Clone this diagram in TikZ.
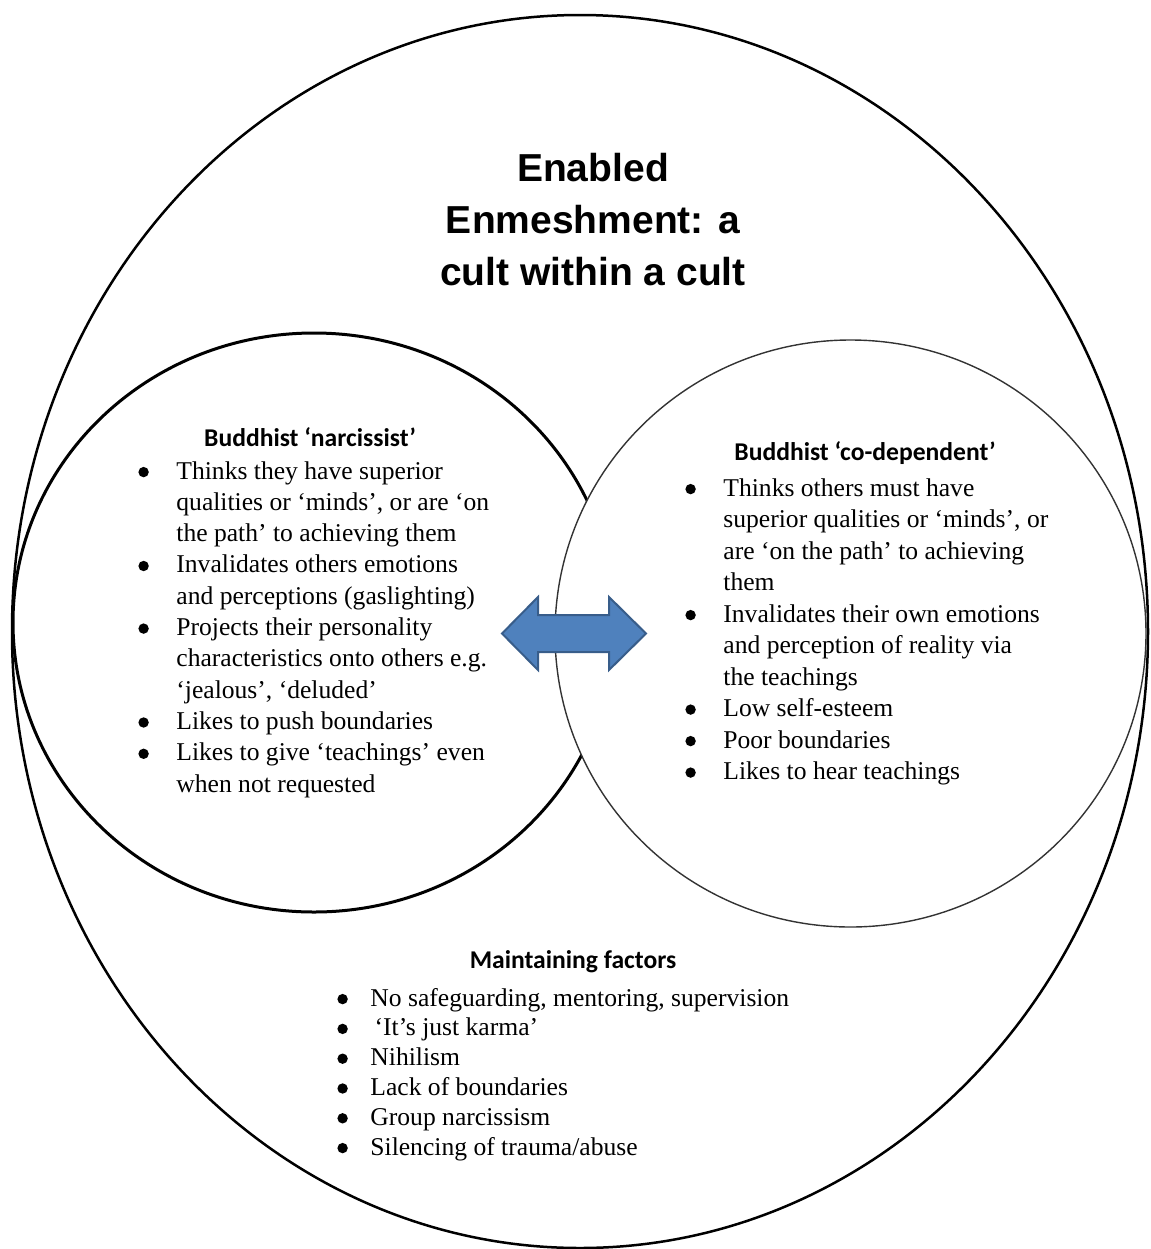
\documentclass[tikz,border=0pt]{standalone}
\usepackage{fontspec}
\setmainfont{Liberation Serif}
\newfontfamily\titlefont{Liberation Sans}
\newfontfamily\headfont{Carlito}
\usetikzlibrary{shapes.geometric}
\definecolor{arrowfill}{HTML}{4F81BD}
\definecolor{arrowline}{HTML}{385D8A}
\renewcommand{\arraystretch}{1}
\newcommand{\bul}{\tikz[baseline=0pt]\fill[black] (0pt,0.27em) circle (2.6pt);}
\begin{document}
\begin{tikzpicture}[x=0.5pt,y=-0.5pt,
  ring/.style={ellipse, draw=black, fill=white, inner sep=0pt},
  headtext/.style={font=\headfont\bfseries\fontsize{12.8}{15}\selectfont, inner sep=0pt},
  listtext/.style={anchor=base west, inner sep=0pt, font=\fontsize{12.8}{15.65}\selectfont},
  rlisttext/.style={anchor=base west, inner sep=0pt, font=\fontsize{12.8}{15.75}\selectfont},
  bottomlist/.style={anchor=base west, inner sep=0pt, font=\fontsize{12.8}{14.9}\selectfont},
  bigarrow/.style={fill=arrowfill, draw=arrowline, line width=1pt, line join=miter}]
\useasboundingbox (0,0) rectangle (1151,1249);

% outer ellipse
\node[ring, line width=1.25pt, minimum width=568pt, minimum height=616.5pt] (outer) at (580,631.5) {};
% left circle (narcissist)
\node[ring, line width=1.5pt, minimum width=301pt, minimum height=289.5pt] (left) at (314,622.5) {};
% right circle (co-dependent)
\node[ring, draw=black!80, line width=0.7pt, minimum width=295.5pt, minimum height=293.5pt] (right) at (850.5,633.5) {};

% title
\node[font=\titlefont\bfseries\fontsize{19.5}{26}\selectfont, align=center, inner sep=0pt] (title) at (593,220)
  {Enabled\\Enmeshment: a\\cult within a cult};

% left list
\node[headtext] (lhead) at (310,437) {Buddhist ‘narcissist’};
\node[listtext] (llist) at (138,479) {\begin{tabular}[t]{@{}p{19pt}@{}l@{}}
\bul & Thinks they have superior\\
 & qualities or ‘minds’, or are ‘on\\
 & the path’ to achieving them\\
\bul & Invalidates others emotions\\
 & and perceptions (gaslighting)\\
\bul & Projects their personality\\
 & characteristics onto others e.g.\\
 & ‘jealous’, ‘deluded’\\
\bul & Likes to push boundaries\\
\bul & Likes to give ‘teachings’ even\\
 & when not requested
\end{tabular}};

% right list
\node[headtext] (rhead) at (865,453) {Buddhist ‘co-dependent’};
\node[rlisttext] (rlist) at (685,496) {\begin{tabular}[t]{@{}p{19pt}@{}l@{}}
\bul & Thinks others must have\\
 & superior qualities or ‘minds’, or\\
 & are ‘on the path’ to achieving\\
 & them\\
\bul & Invalidates their own emotions\\
 & and perception of reality via\\
 & the teachings\\
\bul & Low self-esteem\\
\bul & Poor boundaries\\
\bul & Likes to hear teachings
\end{tabular}};

% bottom list
\node[headtext] (bhead) at (573,962) {Maintaining factors};
\node[bottomlist] (blist) at (337,1006) {\begin{tabular}[t]{@{}p{16.5pt}@{}l@{}}
\bul & No safeguarding, mentoring, supervision\\
\bul & \,‘It’s just karma’\\
\bul & Nihilism\\
\bul & Lack of boundaries\\
\bul & Group narcissism\\
\bul & Silencing of trauma/abuse
\end{tabular}};

% double arrow
\coordinate (ltip) at (502,633.5);
\coordinate (rtip) at (646,633.5);
\draw[bigarrow] (ltip) -- (538,597) -- (538,615) -- (609,615) -- (609,597) -- (rtip)
  -- (609,670) -- (609,652) -- (538,652) -- (538,670) -- cycle;
\end{tikzpicture}
\end{document}
